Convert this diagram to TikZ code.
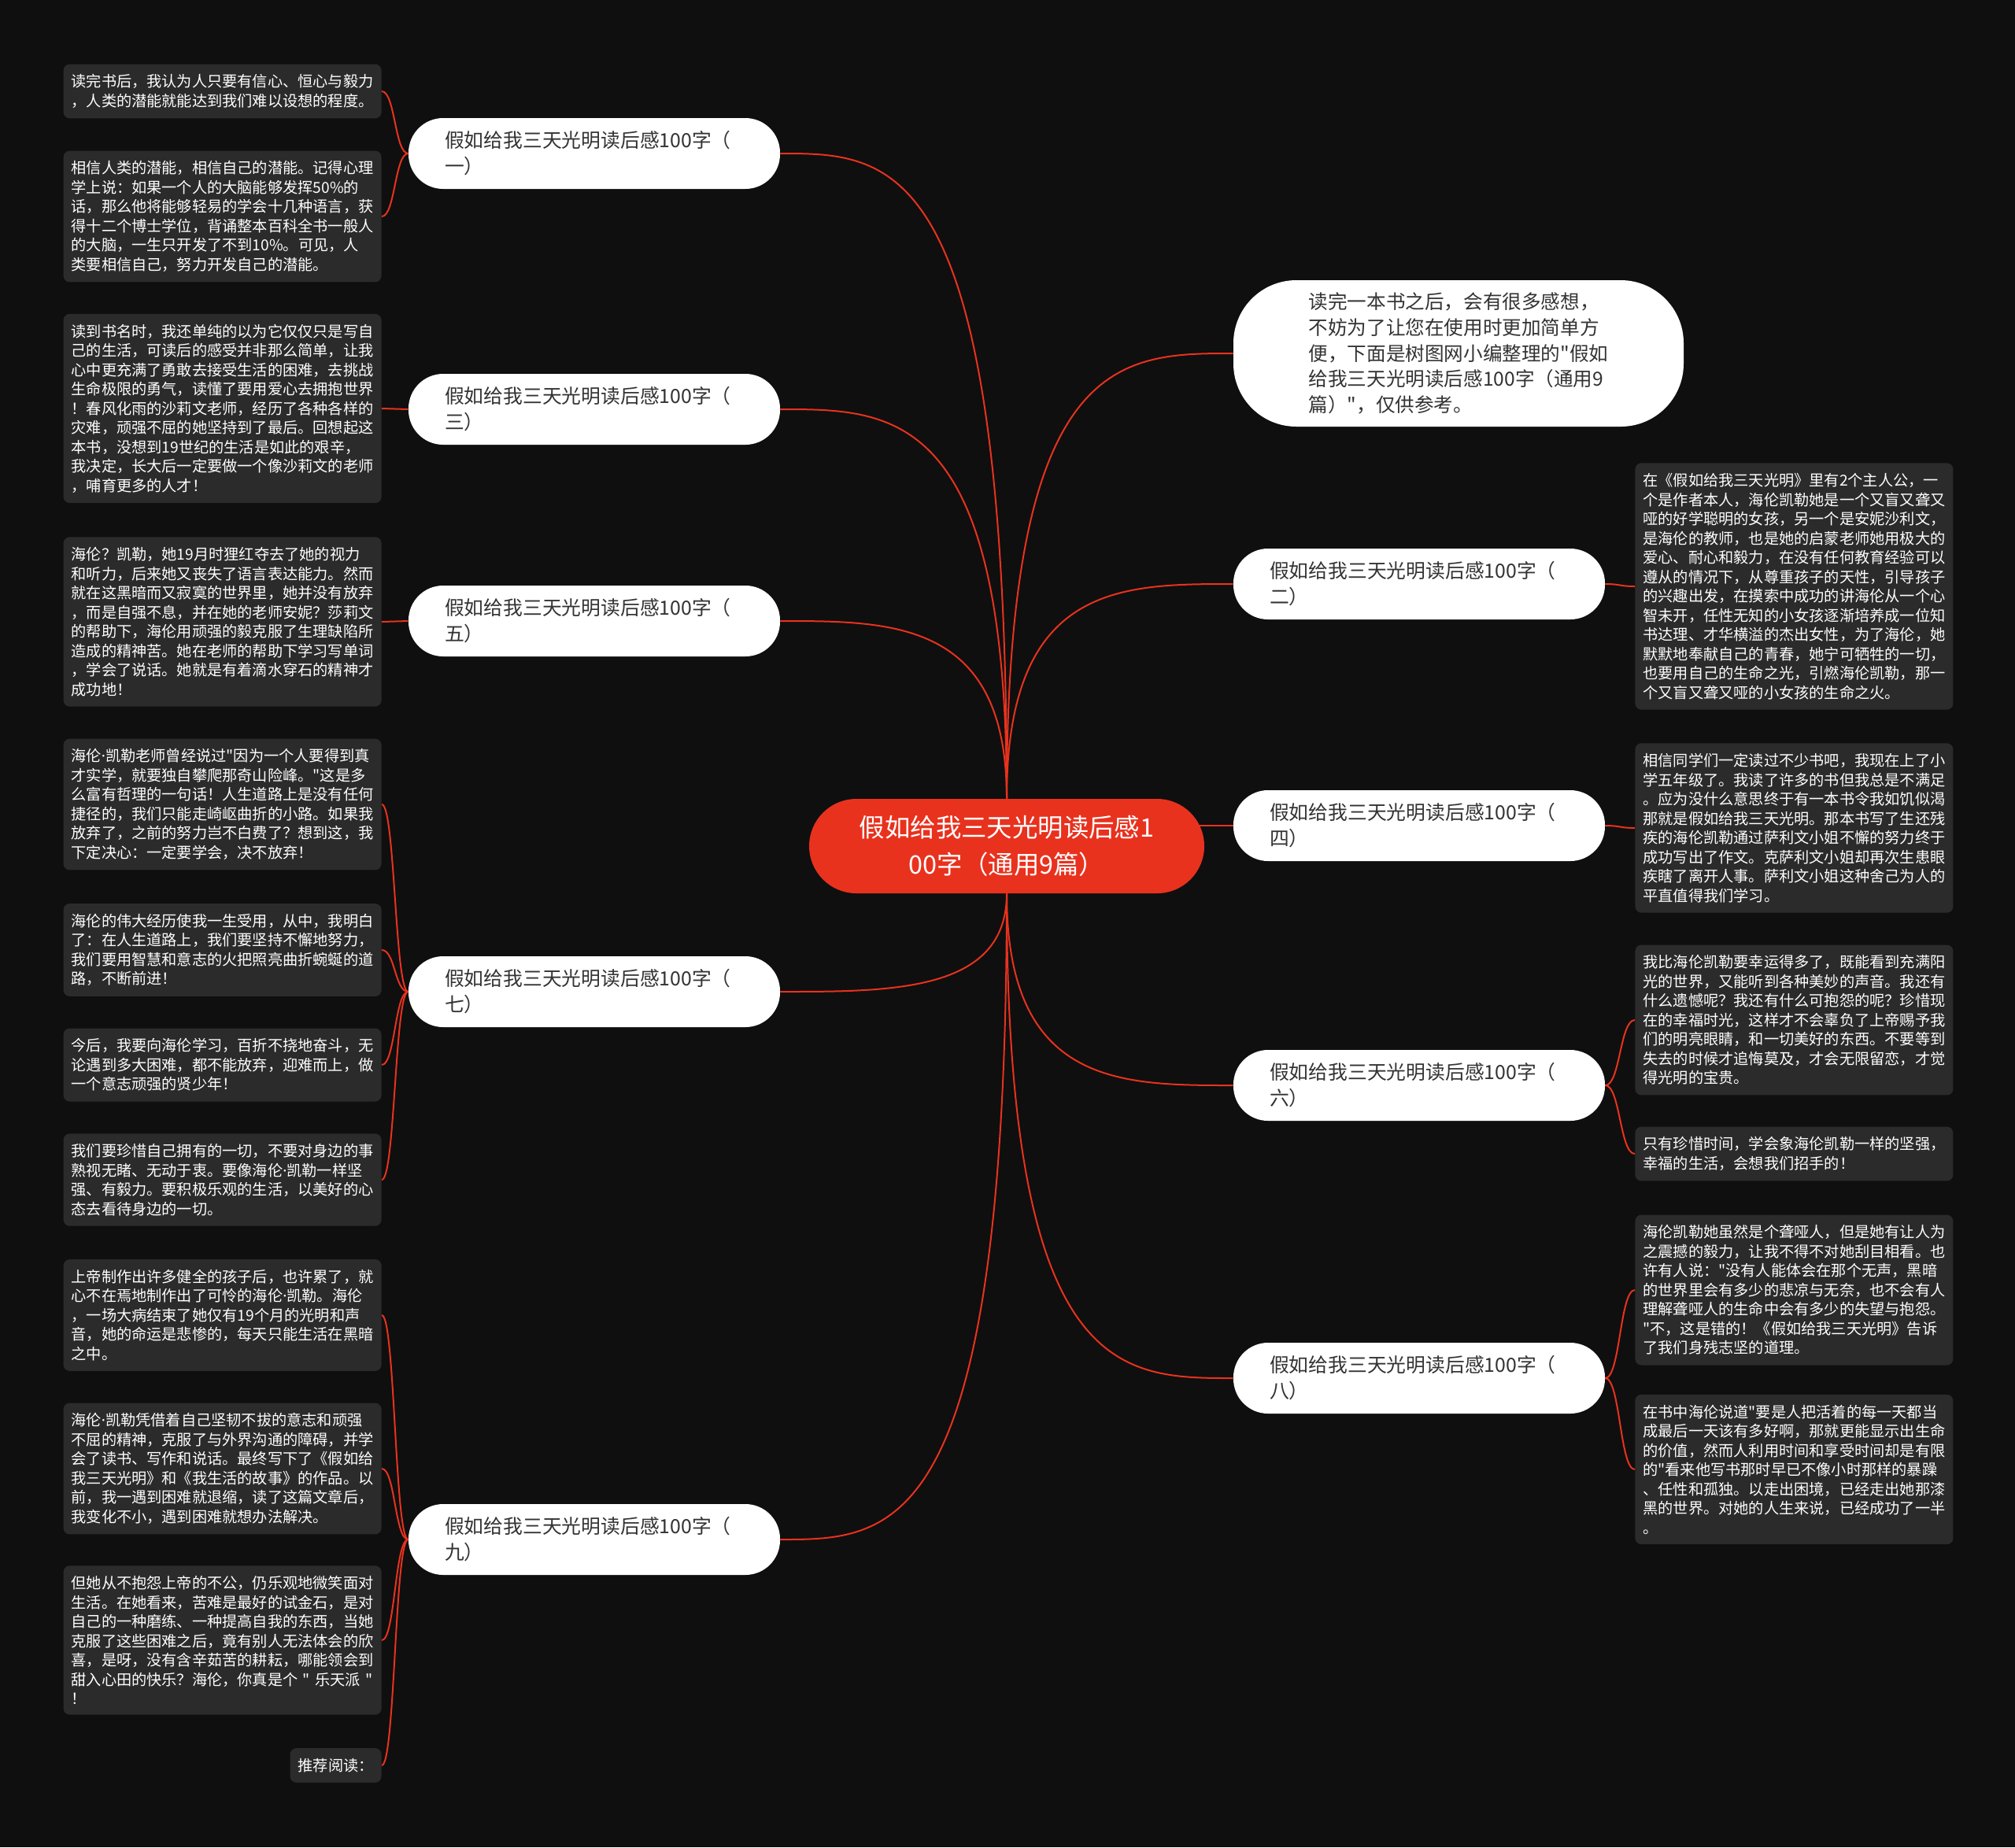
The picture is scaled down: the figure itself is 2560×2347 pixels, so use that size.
\documentclass[tikz,border=0pt]{standalone}
\usepackage{fontspec}
\newfontfamily\cjk{Noto Sans CJK SC}
\newfontfamily\latin{Noto Sans}
\newcommand{\middot}{{\latin ·}}
\usetikzlibrary{calc}
\definecolor{mapred}{HTML}{E8321E}
\definecolor{mapbg}{HTML}{0F0F0F}
\definecolor{leafgray}{HTML}{2B2B2B}
\definecolor{branchtext}{HTML}{333333}
\pgfdeclarelayer{backdrop}
\pgfdeclarelayer{links}
\pgfsetlayers{backdrop,links,main}

\begin{document}
\begin{tikzpicture}[x=0.5pt, y=-0.5pt,
  centre/.style={rounded corners=30pt, fill=mapred, text=white, minimum width=251pt,
    minimum height=60pt, align=center, font=\cjk\fontsize{16.2pt}{23.3pt}\selectfont},
  intro/.style={rounded corners=40pt, fill=white, text=branchtext, minimum width=286pt,
    minimum height=93pt, align=left, font=\cjk\fontsize{12.3pt}{16.3pt}\selectfont},
  branch/.style={rounded corners=22pt, fill=white, text=branchtext, text width=190pt,
    inner xsep=23pt, minimum height=45pt, align=left, font=\cjk\fontsize{12.4pt}{16.5pt}\selectfont},
  leaf/.style={rounded corners=4pt, fill=leafgray, text=white, text width=192pt,
    inner xsep=5pt, inner ysep=6.5pt, align=left, font=\cjk\fontsize{9.6pt}{12.25pt}\selectfont},
  leftleaf/.style={leaf, anchor=east},
  rightleaf/.style={leaf, anchor=west},
  link/.style={draw=mapred, line width=1pt}]
\begin{pgfonlayer}{backdrop}
  \fill[mapbg] (0,0) rectangle (2560,2347);
\end{pgfonlayer}
\useasboundingbox (0,0) rectangle (2560,2347);

\node[centre] (centre) at (1279,1075) {假如给我三天光明读后感1\\00字（通用9篇）};
\node[intro] (intro) at (1853,449) {读完一本书之后，会有很多感想，\\不妨为了让您在使用时更加简单方\\便，下面是树图网小编整理的"假如\\给我三天光明读后感100字（通用9\\篇）"，仅供参考。};

% left branches
\node[branch] (b1) at (755,195) {假如给我三天光明读后感100字（\\一）};
\node[branch] (b3) at (755,520) {假如给我三天光明读后感100字（\\三）};
\node[branch] (b5) at (755,789) {假如给我三天光明读后感100字（\\五）};
\node[branch] (b7) at (755,1260) {假如给我三天光明读后感100字（\\七）};
\node[branch] (b9) at (755,1956) {假如给我三天光明读后感100字（\\九）};
% right branches
\node[branch] (b2) at (1803,742) {假如给我三天光明读后感100字（\\二）};
\node[branch] (b4) at (1803,1049) {假如给我三天光明读后感100字（\\四）};
\node[branch] (b6) at (1803,1379) {假如给我三天光明读后感100字（\\六）};
\node[branch] (b8) at (1803,1751) {假如给我三天光明读后感100字（\\八）};

% left notes
\node[leftleaf] (l1a) at (485,116) {读完书后，我认为人只要有信心、恒心与毅力\\，人类的潜能就能达到我们难以设想的程度。};
\node[leftleaf] (l1b) at (485,275) {相信人类的潜能，相信自己的潜能。记得心理\\学上说：如果一个人的大脑能够发挥50\%的\\话，那么他将能够轻易的学会十几种语言，获\\得十二个博士学位，背诵整本百科全书一般人\\的大脑，一生只开发了不到10\%。可见，人\\类要相信自己，努力开发自己的潜能。};
\node[leftleaf] (l3a) at (485,519) {读到书名时，我还单纯的以为它仅仅只是写自\\己的生活，可读后的感受并非那么简单，让我\\心中更充满了勇敢去接受生活的困难，去挑战\\生命极限的勇气，读懂了要用爱心去拥抱世界\\！春风化雨的沙莉文老师，经历了各种各样的\\灾难，顽强不屈的她坚持到了最后。回想起这\\本书，没想到19世纪的生活是如此的艰辛，\\我决定，长大后一定要做一个像沙莉文的老师\\，哺育更多的人才！};
\node[leftleaf] (l5a) at (485,790) {海伦？凯勒，她19月时狸红夺去了她的视力\\和听力，后来她又丧失了语言表达能力。然而\\就在这黑暗而又寂寞的世界里，她并没有放弃\\，而是自强不息，并在她的老师安妮？莎莉文\\的帮助下，海伦用顽强的毅克服了生理缺陷所\\造成的精神苦。她在老师的帮助下学习写单词\\，学会了说话。她就是有着滴水穿石的精神才\\成功地！};
\node[leftleaf] (l7a) at (485,1022) {海伦\middot 凯勒老师曾经说过"因为一个人要得到真\\才实学，就要独自攀爬那奇山险峰。"这是多\\么富有哲理的一句话！人生道路上是没有任何\\捷径的，我们只能走崎岖曲折的小路。如果我\\放弃了，之前的努力岂不白费了？想到这，我\\下定决心：一定要学会，决不放弃！};
\node[leftleaf] (l7b) at (485,1207) {海伦的伟大经历使我一生受用，从中，我明白\\了：在人生道路上，我们要坚持不懈地努力，\\我们要用智慧和意志的火把照亮曲折蜿蜒的道\\路，不断前进！};
\node[leftleaf] (l7c) at (485,1353) {今后，我要向海伦学习，百折不挠地奋斗，无\\论遇到多大困难，都不能放弃，迎难而上，做\\一个意志顽强的贤少年！};
\node[leftleaf] (l7d) at (485,1499) {我们要珍惜自己拥有的一切，不要对身边的事\\熟视无睹、无动于衷。要像海伦\middot 凯勒一样坚\\强、有毅力。要积极乐观的生活，以美好的心\\态去看待身边的一切。};
\node[leftleaf] (l9a) at (485,1671) {上帝制作出许多健全的孩子后，也许累了，就\\心不在焉地制作出了可怜的海伦\middot 凯勒。海伦\\，一场大病结束了她仅有19个月的光明和声\\音，她的命运是悲惨的，每天只能生活在黑暗\\之中。};
\node[leftleaf] (l9b) at (485,1866) {海伦\middot 凯勒凭借着自己坚韧不拔的意志和顽强\\不屈的精神，克服了与外界沟通的障碍，并学\\会了读书、写作和说话。最终写下了《假如给\\我三天光明》和《我生活的故事》的作品。以\\前，我一遇到困难就退缩，读了这篇文章后，\\我变化不小，遇到困难就想办法解决。};
\node[leftleaf] (l9c) at (485,2084) {但她从不抱怨上帝的不公，仍乐观地微笑面对\\生活。在她看来，苦难是最好的试金石，是对\\自己的一种磨练、一种提高自我的东西，当她\\克服了这些困难之后，竟有别人无法体会的欣\\喜，是呀，没有含辛茹苦的耕耘，哪能领会到\\甜入心田的快乐？海伦，你真是个~"~乐天派~"\\！};
\node[leftleaf, text width=] (l9d) at (485,2243) {推荐阅读：};

% right notes
\node[rightleaf] (l2a) at (2077,745) {在《假如给我三天光明》里有2个主人公，一\\个是作者本人，海伦凯勒她是一个又盲又聋又\\哑的好学聪明的女孩，另一个是安妮沙利文，\\是海伦的教师，也是她的启蒙老师她用极大的\\爱心、耐心和毅力，在没有任何教育经验可以\\遵从的情况下，从尊重孩子的天性，引导孩子\\的兴趣出发，在摸索中成功的讲海伦从一个心\\智未开，任性无知的小女孩逐渐培养成一位知\\书达理、才华横溢的杰出女性，为了海伦，她\\默默地奉献自己的青春，她宁可牺牲的一切，\\也要用自己的生命之光，引燃海伦凯勒，那一\\个又盲又聋又哑的小女孩的生命之火。};
\node[rightleaf] (l4a) at (2077,1052) {相信同学们一定读过不少书吧，我现在上了小\\学五年级了。我读了许多的书但我总是不满足\\。应为没什么意思终于有一本书令我如饥似渴\\那就是假如给我三天光明。那本书写了生还残\\疾的海伦凯勒通过萨利文小姐不懈的努力终于\\成功写出了作文。克萨利文小姐却再次生患眼\\疾瞎了离开人事。萨利文小姐这种舍己为人的\\平直值得我们学习。};
\node[rightleaf] (l6a) at (2077,1296) {我比海伦凯勒要幸运得多了，既能看到充满阳\\光的世界，又能听到各种美妙的声音。我还有\\什么遗憾呢？我还有什么可抱怨的呢？珍惜现\\在的幸福时光，这样才不会辜负了上帝赐予我\\们的明亮眼睛，和一切美好的东西。不要等到\\失去的时候才追悔莫及，才会无限留恋，才觉\\得光明的宝贵。};
\node[rightleaf] (l6b) at (2077,1466) {只有珍惜时间，学会象海伦凯勒一样的坚强，\\幸福的生活，会想我们招手的！};
\node[rightleaf] (l8a) at (2077,1639) {海伦凯勒她虽然是个聋哑人，但是她有让人为\\之震撼的毅力，让我不得不对她刮目相看。也\\许有人说："没有人能体会在那个无声，黑暗\\的世界里会有多少的悲凉与无奈，也不会有人\\理解聋哑人的生命中会有多少的失望与抱怨。\\"不，这是错的！《假如给我三天光明》告诉\\了我们身残志坚的道理。};
\node[rightleaf] (l8b) at (2077,1867) {在书中海伦说道"要是人把活着的每一天都当\\成最后一天该有多好啊，那就更能显示出生命\\的价值，然而人利用时间和享受时间却是有限\\的"看来他写书那时早已不像小时那样的暴躁\\、任性和孤独。以走出困境，已经走出她那漆\\黑的世界。对她的人生来说，已经成功了一半\\。};

\begin{pgfonlayer}{links}
  \foreach \b in {b1,b3,b5}
    \draw[link] (centre.north) .. controls (centre.north |- \b.east) and ($(\b.east)!0.5!(centre.north |- \b.east)$) .. (\b.east);
  \foreach \b in {intro,b2}
    \draw[link] (centre.north) .. controls (centre.north |- \b.west) and ($(\b.west)!0.5!(centre.north |- \b.west)$) .. (\b.west);
  \foreach \b in {b7,b9}
    \draw[link] (centre.south) .. controls (centre.south |- \b.east) and ($(\b.east)!0.5!(centre.south |- \b.east)$) .. (\b.east);
  \foreach \b in {b6,b8}
    \draw[link] (centre.south) .. controls (centre.south |- \b.west) and ($(\b.west)!0.5!(centre.south |- \b.west)$) .. (\b.west);
  \draw[link] ($(b4.west -| centre.east)+(-24,0)$) -- (b4.west);
  \foreach \b/\l in {b1/l1a,b1/l1b,b3/l3a,b5/l5a,b7/l7a,b7/l7b,b7/l7c,b7/l7d,b9/l9a,b9/l9b,b9/l9c,b9/l9d}
    \draw[link] (\b.west) .. controls +(-17,0) and +(17,0) .. (\l.east);
  \foreach \b/\l in {b2/l2a,b4/l4a,b6/l6a,b6/l6b,b8/l8a,b8/l8b}
    \draw[link] (\b.east) .. controls +(19,0) and +(-19,0) .. (\l.west);
\end{pgfonlayer}
\end{tikzpicture}
\end{document}
